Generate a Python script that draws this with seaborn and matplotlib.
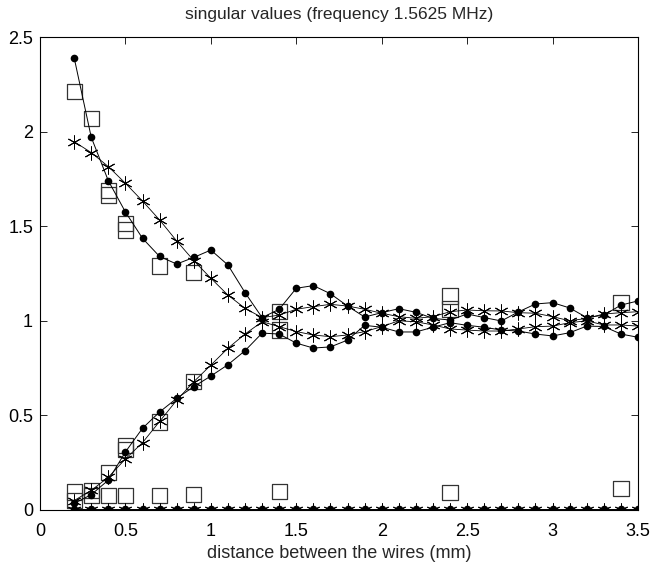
import numpy as np
import pandas as pd
import matplotlib
matplotlib.use("Agg")
import matplotlib.pyplot as plt
import seaborn as sns

# ---- data ----
x = [0.2, 0.3, 0.4, 0.5, 0.6, 0.7, 0.8, 0.9, 1.0, 1.1, 1.2, 1.3, 1.4, 1.5, 1.6, 1.7,
     1.8, 1.9, 2.0, 2.1, 2.2, 2.3, 2.4, 2.5, 2.6, 2.7, 2.8, 2.9, 3.0, 3.1, 3.2, 3.3, 3.4, 3.5]

dot_s1 = [2.39, 1.97, 1.74, 1.575, 1.436, 1.34, 1.30, 1.335, 1.374, 1.295, 1.149, 1.017,
          1.061, 1.172, 1.186, 1.143, 1.078, 1.02, 1.043, 1.064, 1.045, 1.013, 1.004, 1.036,
          1.017, 0.999, 1.047, 1.089, 1.096, 1.068, 1.017, 1.03, 1.083, 1.105]
dot_s2 = [0.035, 0.081, 0.158, 0.307, 0.432, 0.518, 0.59, 0.652, 0.708, 0.768, 0.842, 0.935,
          0.93, 0.882, 0.856, 0.862, 0.898, 0.976, 0.966, 0.941, 0.941, 0.966, 0.99, 0.976,
          0.966, 0.951, 0.946, 0.93, 0.92, 0.937, 0.972, 0.97, 0.93, 0.913]
dot_s3 = [0.004] * len(x)

star_s1 = [1.947, 1.889, 1.815, 1.727, 1.633, 1.533, 1.422, 1.318, 1.225, 1.136, 1.066, 1.017,
           1.03, 1.061, 1.075, 1.087, 1.078, 1.061, 1.04, 1.022, 1.013, 1.022, 1.048, 1.057,
           1.053, 1.052, 1.043, 1.04, 1.022, 1.0, 1.013, 1.036, 1.043, 1.048]
star_s2 = [0.05, 0.104, 0.173, 0.27, 0.356, 0.468, 0.58, 0.678, 0.766, 0.855, 0.93, 0.995,
           0.969, 0.943, 0.925, 0.916, 0.925, 0.943, 0.969, 1.0, 0.995, 0.978, 0.957, 0.951,
           0.946, 0.946, 0.957, 0.969, 0.972, 0.99, 1.0, 0.978, 0.978, 0.972]
star_s3 = [0.002] * len(x)

sq_x = [0.2, 0.2, 0.2, 0.3, 0.3, 0.3, 0.4, 0.4, 0.4, 0.4, 0.5, 0.5, 0.5, 0.5, 0.5,
        0.7, 0.7, 0.7, 0.9, 0.9, 0.9, 1.4, 1.4, 1.4, 2.4, 2.4, 2.4, 3.4, 3.4]
sq_y = [2.21, 0.095, 0.05, 2.07, 0.105, 0.075, 1.69, 1.665, 0.2, 0.078, 1.515, 1.48, 0.34, 0.32, 0.078,
        1.29, 0.465, 0.075, 1.256, 0.68, 0.082, 1.048, 0.951, 0.097, 1.131, 1.062, 0.093, 1.098, 0.115]

title = "singular values (frequency 1.5625 MHz)"
xlabel = "distance between the wires (mm)"
xticks = [0, 0.5, 1, 1.5, 2, 2.5, 3, 3.5]
xticklabels = ["0", "0.5", "1", "1.5", "2", "2.5", "3", "3.5"]
yticks = [0, 0.5, 1, 1.5, 2, 2.5]
yticklabels = ["0", "0.5", "1", "1.5", "2", "2.5"]

# ---- drawing ----
sns.set_style("white")
plt.rcParams['font.family'] = ['Liberation Sans', 'DejaVu Sans']

fig = plt.figure(figsize=(6.52, 5.63), dpi=100)
ax = fig.add_axes([40 / 652, 53 / 563, 598 / 652, 473 / 563])

dots = pd.DataFrame({"x": x * 3, "y": dot_s1 + dot_s2 + dot_s3,
                     "s": ["1"] * len(x) + ["2"] * len(x) + ["3"] * len(x)})
stars = pd.DataFrame({"x": x * 3, "y": star_s1 + star_s2 + star_s3,
                      "s": ["1"] * len(x) + ["2"] * len(x) + ["3"] * len(x)})
squares = pd.DataFrame({"x": sq_x, "y": sq_y})

for s in ["1", "2", "3"]:
    sns.lineplot(data=stars[stars.s == s], x="x", y="y", ax=ax, color="black",
                 linewidth=0.6, marker=(6, 2, 0), markersize=10, markeredgewidth=0.7,
                 markeredgecolor="black", estimator=None, sort=False, legend=False)
for s in ["1", "2", "3"]:
    sns.lineplot(data=dots[dots.s == s], x="x", y="y", ax=ax, color="black",
                 linewidth=0.7, marker="o", markersize=5.5, markeredgewidth=0,
                 markerfacecolor="black", estimator=None, sort=False, legend=False)
sns.scatterplot(data=squares, x="x", y="y", ax=ax, marker="s", s=120,
                facecolors="none", edgecolor="#333333", linewidth=0.9, legend=False)

ax.set_xlim(0, 3.5)
ax.set_ylim(0, 2.5)
ax.set_xticks(xticks)
ax.set_xticklabels(xticklabels)
ax.set_yticks(yticks)
ax.set_yticklabels(yticklabels)
ax.tick_params(direction="in", length=5, width=0.6, labelsize=13, pad=5,
               top=True, right=True, bottom=True, left=True, colors="black")
ax.tick_params(axis="x", pad=9)
for sp in ax.spines.values():
    sp.set_visible(True)
    sp.set_linewidth(0.8)
    sp.set_color("black")
ax.set_xlabel(xlabel, fontsize=13, labelpad=4)
ax.set_ylabel("")
ax.set_title(title, fontsize=12.5, pad=13)

fig.savefig("out.png", dpi=100)
